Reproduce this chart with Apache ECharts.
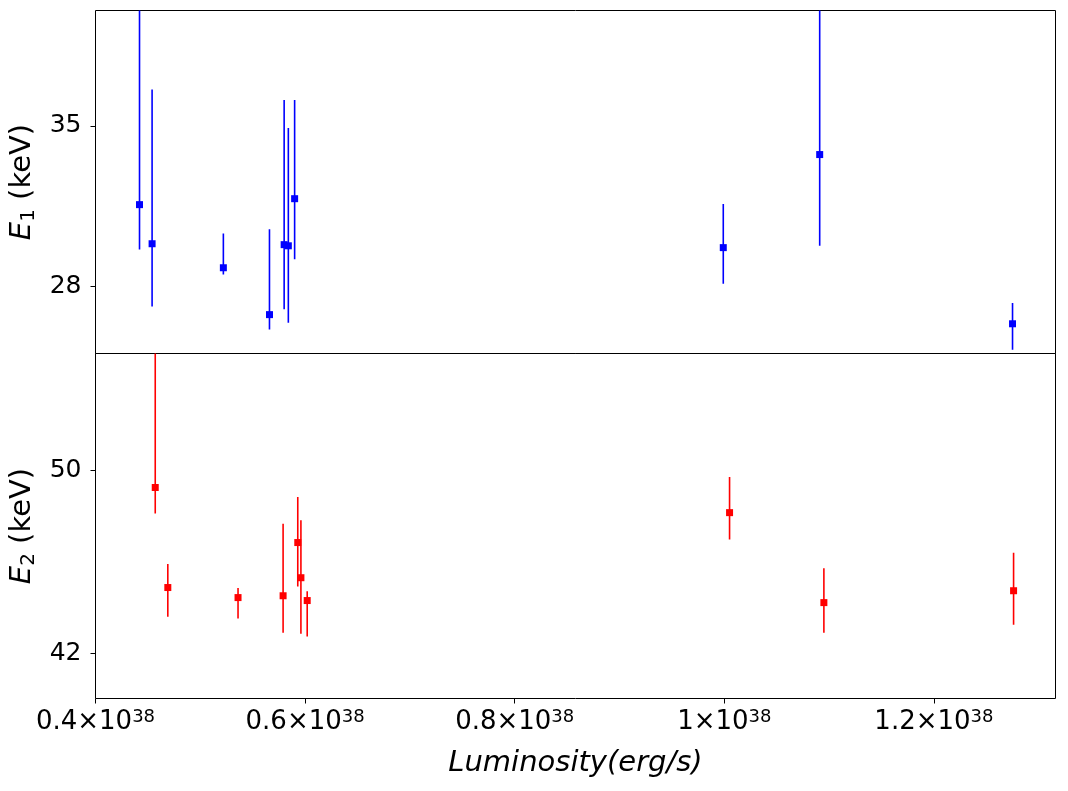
<!DOCTYPE html>
<html>
<head>
<meta charset="utf-8">
<script src="https://cdn.jsdelivr.net/npm/echarts@6/dist/echarts.min.js"></script>
<style>
	html, body { margin: 0; padding: 0; background: #fff; }
	#chart { width: 1068px; height: 791px; }
</style>
</head>
<body>
<div id="chart"></div>
<script>
	// luminosity in units of 1e38 erg/s
	const lum1 = [0.442, 0.454, 0.522, 0.566, 0.580, 0.584, 0.590, 0.999, 1.091, 1.275]
	const e1 = [31.56, 29.85, 28.80, 26.75, 29.81, 29.76, 31.82, 29.68, 33.75, 26.35]
	const e1Lo = [29.60, 27.10, 28.51, 26.10, 26.98, 26.39, 29.17, 28.10, 29.76, 25.21]
	const e1Hi = [42.5, 36.60, 30.30, 30.48, 36.14, 34.91, 36.14, 31.59, 41.5, 27.26]

	const lum2 = [0.457, 0.469, 0.536, 0.579, 0.593, 0.596, 0.602, 1.005, 1.095, 1.276]
	const e2 = [49.26, 44.88, 44.44, 44.52, 46.85, 45.31, 44.31, 48.16, 44.22, 44.74]
	const e2Lo = [48.12, 43.60, 43.52, 42.90, 44.92, 42.86, 42.73, 46.98, 42.90, 43.25]
	const e2Hi = [57.0, 45.91, 44.86, 47.67, 48.85, 47.83, 44.72, 49.72, 45.72, 46.40]

	const xTicks = [0.4, 0.6, 0.8, 1.0, 1.2]
	const e1Ticks = [28, 35]
	const e2Ticks = [42, 50]

	const font = 'DejaVu Sans'
	const xMin = 0.4
	const xMax = 1.316

	const errSeries = (xs, lo, hi, color, idx) => ({
		type: 'custom',
		xAxisIndex: idx,
		yAxisIndex: idx,
		clip: true,
		data: xs.map((x, i) => [x, lo[i], hi[i]]),
		encode: { x: 0, y: [1, 2] },
		renderItem: (params, api) => {
			const a = api.coord([api.value(0), api.value(1)])
			const b = api.coord([api.value(0), api.value(2)])
			return {
				type: 'line',
				shape: { x1: a[0], y1: a[1], x2: b[0], y2: b[1] },
				style: { stroke: color, lineWidth: 1.6 }
			}
		},
		z: 2
	})

	const pointSeries = (xs, ys, color, idx) => ({
		type: 'scatter',
		xAxisIndex: idx,
		yAxisIndex: idx,
		symbol: 'rect',
		symbolSize: 7,
		itemStyle: { color: color, opacity: 1 },
		data: xs.map((x, i) => [x, ys[i]]),
		z: 3
	})

	const yAxisOpt = (idx, min, max, ticks, sub) => ({
		type: 'value',
		gridIndex: idx,
		min: min,
		max: max,
		name: '{i|E}{s|' + sub + '}{n| (keV)}',
		nameLocation: 'middle',
		nameRotate: 90,
		nameGap: 56,
		nameTextStyle: {
			rich: {
				i: { fontFamily: font, fontStyle: 'italic', fontSize: 29, color: '#000' },
				s: { fontFamily: font, fontSize: 20, color: '#000', padding: [12, 0, 0, 0] },
				n: { fontFamily: font, fontSize: 29, color: '#000' }
			}
		},
		axisLine: { show: false },
		splitLine: { show: false },
		axisTick: { show: true, customValues: ticks, length: 5, lineStyle: { color: '#000', width: 1 } },
		axisLabel: { customValues: ticks, margin: 14, fontFamily: font, fontSize: 25, color: '#000' }
	})

	const chart = echarts.init(document.getElementById('chart'))
	const option = {
		backgroundColor: '#fff',
		animation: false,
		grid: [
			{ left: 95.5, top: 10.5, width: 960, height: 343, show: true, borderColor: '#000', borderWidth: 1, backgroundColor: 'transparent' },
			{ left: 95.5, top: 353.5, width: 960, height: 345, show: true, borderColor: '#000', borderWidth: 1, backgroundColor: 'transparent' }
		],
		xAxis: [
			{
				type: 'value',
				gridIndex: 0,
				min: xMin,
				max: xMax,
				axisLine: { show: false },
				axisTick: { show: false },
				axisLabel: { show: false },
				splitLine: { show: false }
			},
			{
				type: 'value',
				gridIndex: 1,
				min: xMin,
				max: xMax,
				name: 'Luminosity(erg/s)',
				nameLocation: 'middle',
				nameGap: 50,
				nameTextStyle: { fontFamily: font, fontStyle: 'italic', fontSize: 29, color: '#000' },
				axisLine: { show: false },
				splitLine: { show: false },
				axisTick: { show: true, customValues: xTicks, length: 5, lineStyle: { color: '#000', width: 1 } },
				axisLabel: {
					customValues: xTicks,
					margin: 10,
					formatter: (v) => '{n|' + parseFloat(v.toFixed(1)) + '×10}{p|38}',
					rich: {
						n: { fontFamily: font, fontSize: 26, color: '#000' },
						p: { fontFamily: font, fontSize: 18, color: '#000', padding: [0, 0, 10, 0] }
					}
				}
			}
		],
		yAxis: [
			yAxisOpt(0, 25.05, 40.05, e1Ticks, '1'),
			yAxisOpt(1, 40.02, 55.13, e2Ticks, '2')
		],
		series: [
			errSeries(lum1, e1Lo, e1Hi, '#0000ff', 0),
			pointSeries(lum1, e1, '#0000ff', 0),
			errSeries(lum2, e2Lo, e2Hi, '#ff0000', 1),
			pointSeries(lum2, e2, '#ff0000', 1)
		]
	}
	chart.setOption(option)
	window.onresize = () => {
		chart.resize()
	}
</script>
</body>
</html>
